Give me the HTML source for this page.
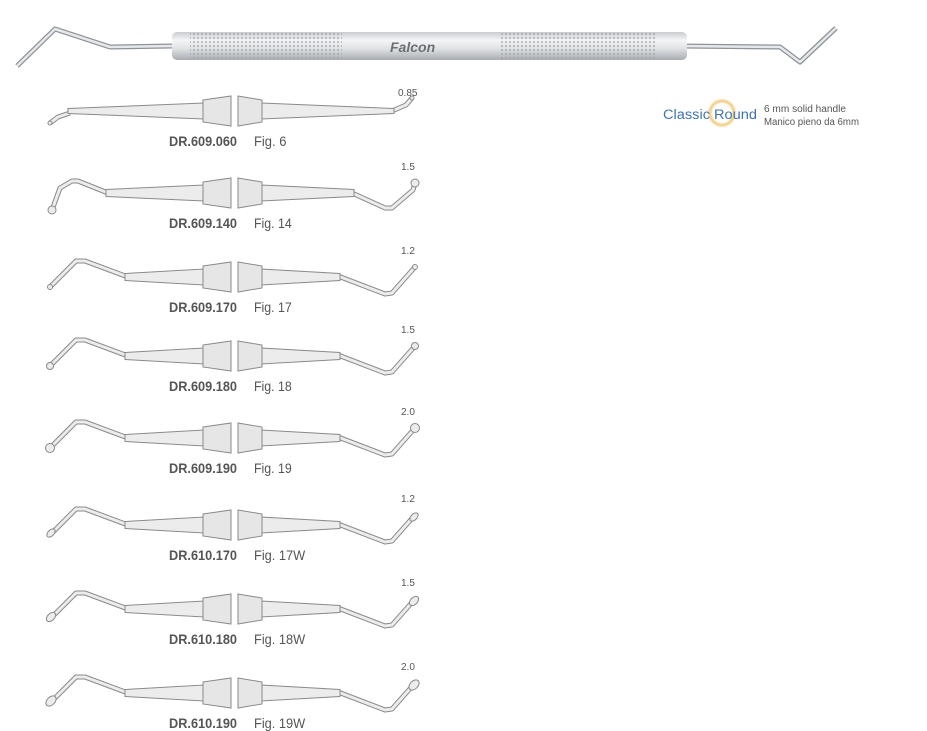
<!DOCTYPE html>
<html><head><meta charset="utf-8"><style>
body{margin:0;background:#fff;width:927px;height:731px;overflow:hidden}
svg{display:block}
text{font-family:"Liberation Sans",sans-serif}
</style></head><body>
<svg id="s" width="927" height="731" xmlns="http://www.w3.org/2000/svg">
<defs>
<linearGradient id="hg" x1="0" y1="0" x2="0" y2="1">
<stop offset="0" stop-color="#c9ccd0"/><stop offset="0.3" stop-color="#f4f5f6"/><stop offset="0.6" stop-color="#dfe1e3"/><stop offset="1" stop-color="#a9adb2"/></linearGradient>
<pattern id="kn" width="4" height="4" patternUnits="userSpaceOnUse"><rect width="4" height="4" fill="none"/><circle cx="2" cy="2" r="1.1" fill="#9ea3a8" opacity="0.7"/></pattern>
<radialGradient id="cg" cx="0.5" cy="0.5" r="0.5"><stop offset="0.6" stop-color="#f4d9a0" stop-opacity="0"/><stop offset="0.8" stop-color="#f1c879"/><stop offset="1" stop-color="#f4d9a0" stop-opacity="0"/></radialGradient>
</defs>
<polyline points="172,46 110,47 55,29 17,66" fill="none" stroke="#8e9398" stroke-width="5" stroke-linejoin="round"/>
<polyline points="172,46 110,47 55,29 17,66" fill="none" stroke="#e6e8ea" stroke-width="2.5" stroke-linejoin="round"/>
<polyline points="680,46 780,47 800,62 836,28" fill="none" stroke="#8e9398" stroke-width="5" stroke-linejoin="round"/>
<polyline points="680,46 780,47 800,62 836,28" fill="none" stroke="#e6e8ea" stroke-width="2.5" stroke-linejoin="round"/>
<rect x="172" y="32" width="515" height="28" rx="5" fill="url(#hg)"/>
<rect x="190" y="33" width="152" height="26" fill="url(#kn)"/>
<rect x="500" y="33" width="156" height="26" fill="url(#kn)"/>
<text x="390" y="52" font-size="14" font-weight="bold" fill="#6b7075" font-style="italic">Falcon</text>
<circle cx="722" cy="113" r="15" fill="url(#cg)"/>
<text x="663" y="119" font-size="13.5" fill="#3f74b0" textLength="94" lengthAdjust="spacingAndGlyphs">Classic Round</text>
<text x="764" y="112" font-size="10" fill="#555" textLength="82" lengthAdjust="spacingAndGlyphs">6 mm solid handle</text>
<text x="764" y="125" font-size="10" fill="#555" textLength="95" lengthAdjust="spacingAndGlyphs">Manico pieno da 6mm</text>
<g id="rows"></g>
</svg>
<script>
var rows=[
 {c:111,code:"DR.609.060",fig:"Fig. 6",n:"0.85",t:0},
 {c:193,code:"DR.609.140",fig:"Fig. 14",n:"1.5",t:1,r:4},
 {c:277,code:"DR.609.170",fig:"Fig. 17",n:"1.2",t:2,r:2.5},
 {c:356,code:"DR.609.180",fig:"Fig. 18",n:"1.5",t:2,r:3.5},
 {c:438,code:"DR.609.190",fig:"Fig. 19",n:"2.0",t:2,r:4.5},
 {c:525,code:"DR.610.170",fig:"Fig. 17W",n:"1.2",t:3,r:3},
 {c:609,code:"DR.610.180",fig:"Fig. 18W",n:"1.5",t:3,r:3.5},
 {c:693,code:"DR.610.190",fig:"Fig. 19W",n:"2.0",t:3,r:4}
];
var h="";
function wire(p){var s=p.map(a=>a.join(",")).join(" ");
return '<polyline points="'+s+'" fill="none" stroke="#8a8a8a" stroke-width="5" stroke-linejoin="round"/><polyline points="'+s+'" fill="none" stroke="#ececec" stroke-width="3" stroke-linejoin="round"/>';}
rows.forEach(function(R){var c=R.c,L,Rt,lb,rb,xl,xr;
 if(R.t==0){L=[[50,c+12],[58,c+6],[64,c+4],[70,c+2]];Rt=[[392,c],[406,c-6],[412,c-13]];xl=68;xr=394;lb=[50,c+12];rb=[412,c-13];}
 else if(R.t==1){L=[[52,c+17],[60,c-5],[72,c-12],[78,c-12],[108,c]];Rt=[[352,c],[385,c+15],[392,c+15],[413,c-3],[415,c-10]];xl=106;xr=354;lb=[52,c+17];rb=[415,c-10];}
 else {L=[[50,c+10],[76,c-16],[85,c-16],[128,c]];Rt=[[338,c-1],[385,c+17],[392,c+16],[415,c-10]];xl=125;xr=340;lb=[50,c+10];rb=[415,c-10];}
 h+=wire(L)+wire(Rt);
 var lw=R.t==0?2.5:3.5;
 h+='<polygon points="'+xl+','+(c-lw)+' 204,'+(c-8)+' 204,'+(c+8)+' '+xl+','+(c+lw)+'" fill="#ececec" stroke="#8a8a8a" stroke-width="1"/>';
 h+='<polygon points="261,'+(c-8)+' '+xr+','+(c-lw)+' '+xr+','+(c+lw)+' 261,'+(c+8)+'" fill="#ececec" stroke="#8a8a8a" stroke-width="1"/>';
 h+='<polygon points="203,'+(c-11)+' 231,'+(c-15)+' 231,'+(c+15)+' 203,'+(c+11)+'" fill="#e6e6e6" stroke="#8a8a8a" stroke-width="1"/>';
 h+='<polygon points="238,'+(c-15)+' 262,'+(c-11)+' 262,'+(c+11)+' 238,'+(c+15)+'" fill="#e6e6e6" stroke="#8a8a8a" stroke-width="1"/>';
 var br=R.t==0?2:R.r;
 if(R.t==3){h+='<ellipse cx="'+(lb[0]+1)+'" cy="'+(lb[1]-2)+'" rx="'+br+'" ry="'+(br+2)+'" transform="rotate(45 '+(lb[0]+1)+' '+(lb[1]-2)+')" fill="#ececec" stroke="#8a8a8a"/>';
  h+='<ellipse cx="'+(rb[0]-1)+'" cy="'+(rb[1]+2)+'" rx="'+br+'" ry="'+(br+2)+'" transform="rotate(45 '+(rb[0]-1)+' '+(rb[1]+2)+')" fill="#ececec" stroke="#8a8a8a"/>';}
 else{h+='<circle cx="'+lb[0]+'" cy="'+lb[1]+'" r="'+br+'" fill="#ececec" stroke="#8a8a8a"/><circle cx="'+rb[0]+'" cy="'+rb[1]+'" r="'+br+'" fill="#ececec" stroke="#8a8a8a"/>';}
 h+='<text x="'+(R.n=="0.85"?398:401)+'" y="'+(R.t==0?c-15:c-23)+'" font-size="10" fill="#555">'+R.n+'</text>';
 h+='<text x="169" y="'+(c+35)+'" font-size="14" font-weight="bold" fill="#555" textLength="68" lengthAdjust="spacingAndGlyphs">'+R.code+'</text>';
 var fl=R.fig.length*5.4+(R.fig.indexOf("W")>=0?8:0);
 h+='<text x="254" y="'+(c+35)+'" font-size="14" fill="#555" textLength="'+fl+'" lengthAdjust="spacingAndGlyphs">'+R.fig+'</text>';
});
document.getElementById("rows").innerHTML=h;
</script>
</body></html>
